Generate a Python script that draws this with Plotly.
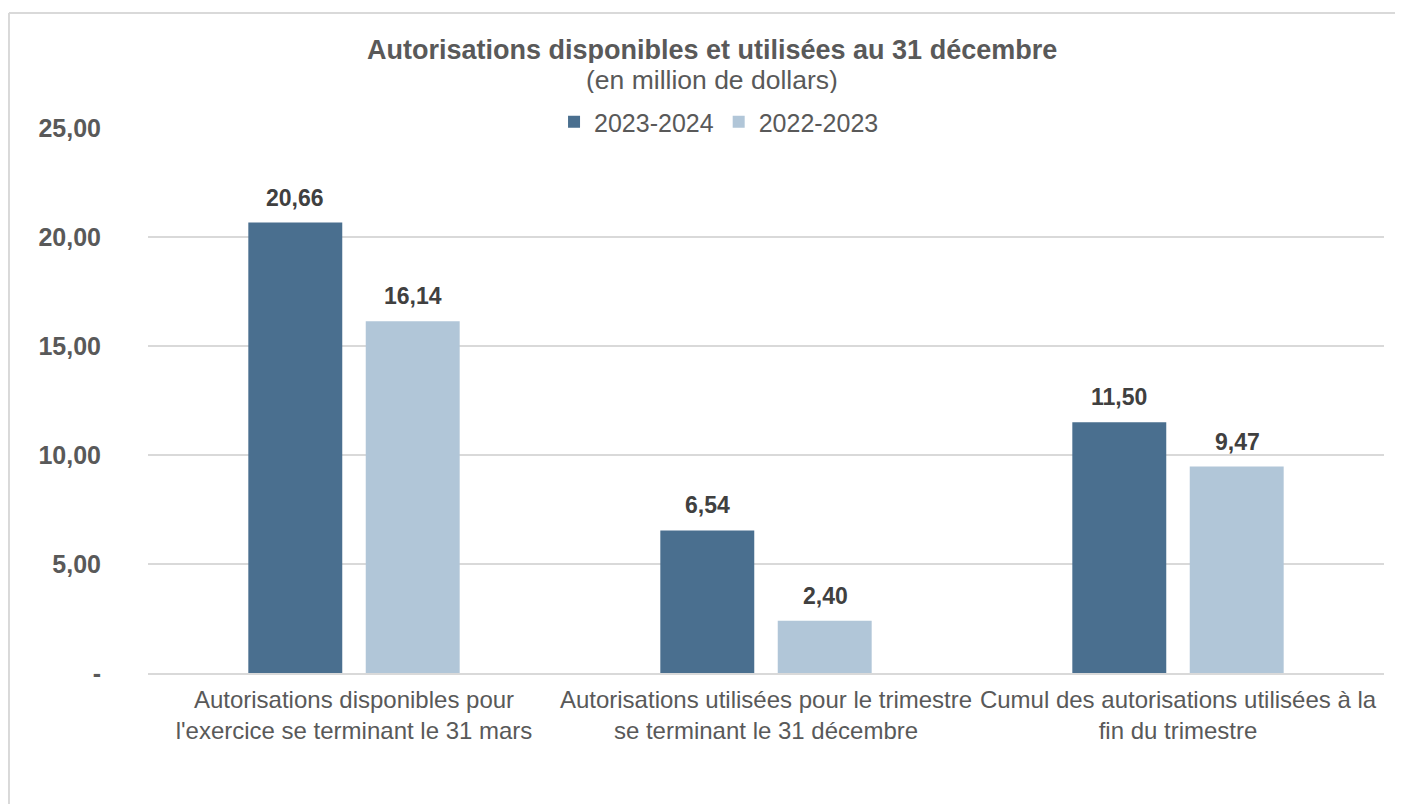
import plotly.graph_objects as go

categories = [
    "Autorisations disponibles pour<br>l'exercice se terminant le 31 mars",
    "Autorisations utilisées pour le trimestre<br>se terminant le 31 décembre",
    "Cumul des autorisations utilisées à la<br>fin du trimestre",
]
series_names = ["2023-2024", "2022-2023"]
values_2023_2024 = [20.66, 6.54, 11.50]
values_2022_2023 = [16.14, 2.40, 9.47]
tick_vals = [0, 5, 10, 15, 20, 25]
tick_text = ["-", "5,00", "10,00", "15,00", "20,00", "25,00"]
title_text = "Autorisations disponibles et utilisées au 31 décembre"
subtitle_text = "(en million de dollars)"

colors = ["#4A6F8F", "#B1C6D8"]
label_shift = [-59, 59]

def fmt(v):
    return f"{v:.2f}".replace(".", ",")

fig = go.Figure()
annotations = []
for name, vals, col, xs in zip(series_names, [values_2023_2024, values_2022_2023], colors, label_shift):
    fig.add_trace(go.Bar(
        x=categories, y=vals, name=name,
        marker=dict(color=col, line=dict(width=0)),
    ))
    for c, v in zip(categories, vals):
        annotations.append(dict(
            x=c, y=v, xref="x", yref="y", text=f"<b>{fmt(v)}</b>", showarrow=False,
            xshift=xs, yshift=25, xanchor="center", yanchor="middle",
            font=dict(size=23, color="#404040"),
        ))

annotations += [
    dict(text=f"<b>{title_text}</b>", xref="paper", yref="paper", x=0.4563, y=(665 - 42) / 545,
         xanchor="center", yanchor="middle", showarrow=False, height=26,
         font=dict(size=27, color="#595959")),
    dict(text=subtitle_text, xref="paper", yref="paper", x=0.4563, y=(665 - 71.5) / 545,
         xanchor="center", yanchor="middle", showarrow=False, height=26,
         font=dict(size=26.5, color="#595959")),
]

fig.update_layout(
    width=1395, height=796,
    margin=dict(l=140, r=19, t=120, b=131, autoexpand=False),
    paper_bgcolor="white", plot_bgcolor="white",
    barmode="group", bargap=0.43, bargroupgap=0.2,
    font=dict(family="Liberation Sans, Arial", color="#595959"),
    legend=dict(
        orientation="h", x=0.462, xanchor="center", y=1.011, yanchor="middle",
        font=dict(size=25, color="#595959"), bgcolor="rgba(0,0,0,0)",
        itemwidth=30, tracegroupgap=0,
    ),
    xaxis=dict(
        showgrid=False, showline=True, linecolor="#D9D9D9", linewidth=1.5,
        tickfont=dict(size=24, color="#595959"), ticks="", ticklabelstandoff=4,
    ),
    yaxis=dict(
        range=[0, 25], tickvals=tick_vals, ticktext=tick_text,
        showgrid=True, gridcolor="#D9D9D9", gridwidth=1.5, zeroline=False,
        tickfont=dict(size=25, color="#595959", weight="bold"), ticks="",
        ticklabelstandoff=46,
    ),
    annotations=annotations,
    shapes=[
        dict(type="line", xref="paper", yref="paper", x0=-0.1125, x1=1.0154, y0=1.211, y1=1.211,
             line=dict(color="#D9D9D9", width=2)),
        dict(type="line", xref="paper", yref="paper", x0=-0.1125, x1=-0.1125, y0=1.211, y1=-0.3,
             line=dict(color="#D9D9D9", width=2)),
    ],
)

fig.write_html("out.html")
